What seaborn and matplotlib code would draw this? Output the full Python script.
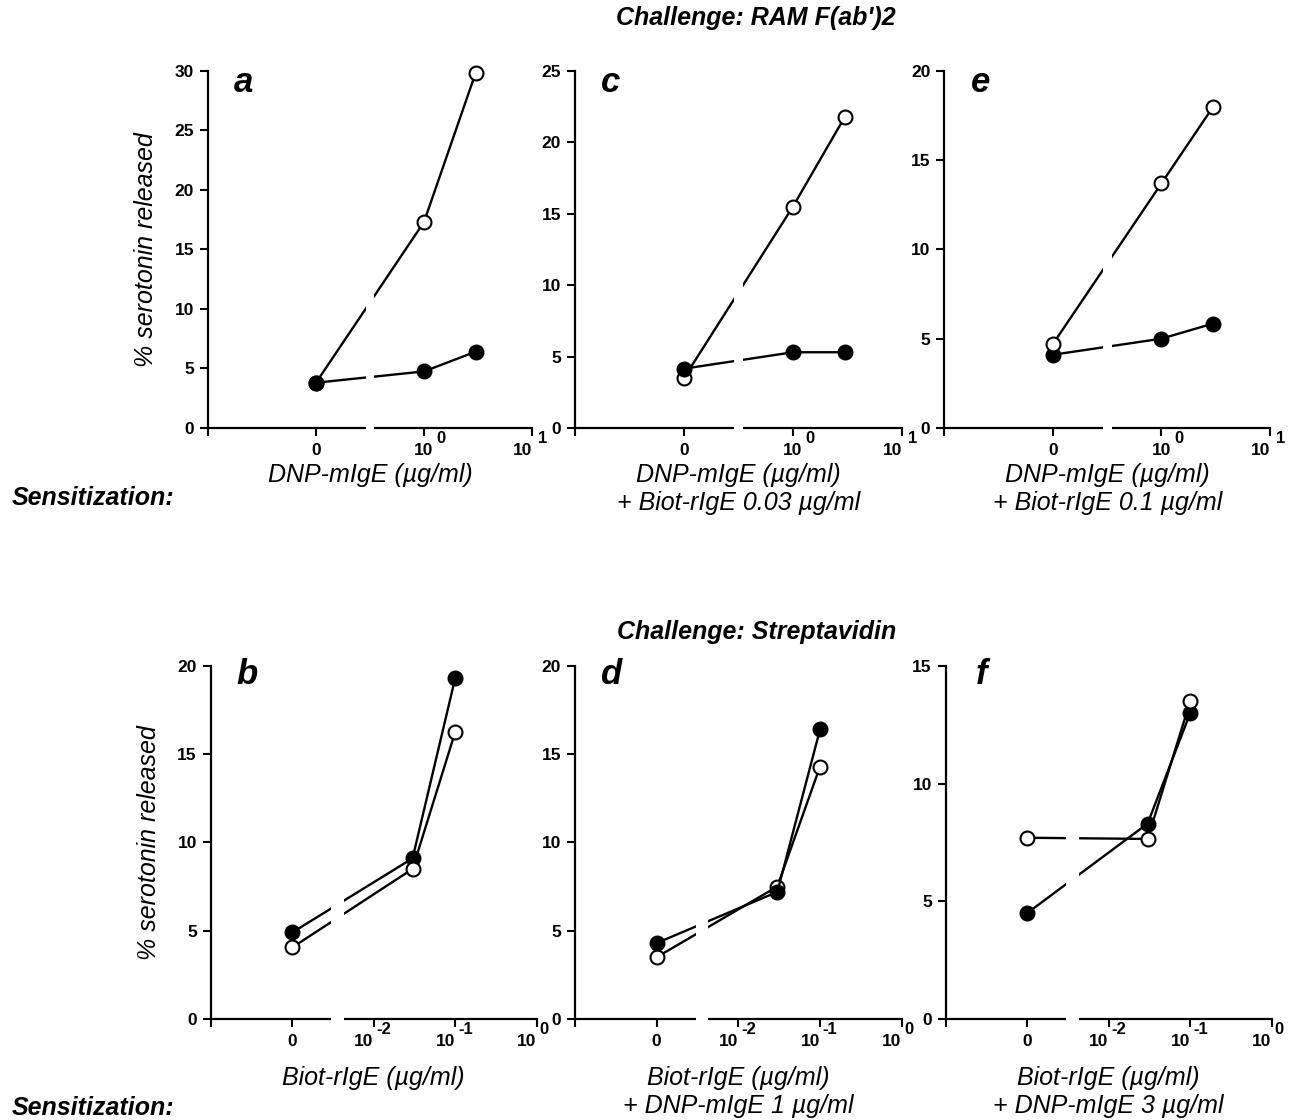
"""
Serotonin release after sensitization / challenge (panels a-f)
"""
import numpy as np
import pandas as pd
import matplotlib
matplotlib.use('Agg')
import matplotlib.pyplot as plt
import seaborn as sns

sns.set_style('ticks')
plt.rcParams['font.family'] = ['Liberation Sans', 'DejaVu Sans']
plt.rcParams['font.weight'] = 'bold'
for key in ['text.color', 'axes.labelcolor', 'axes.edgecolor', 'xtick.color', 'ytick.color']:
    plt.rcParams[key] = 'black'

# Concentrations of the varied sensitizing antibody (ug/ml), 0 = none
dnp_conc = [0, 1, 3]
biot_conc = [0, 0.03, 0.1]

# Challenge: RAM F(ab')2 (top row)
a_open = [3.8, 17.3, 29.8]
a_filled = [3.8, 4.75, 6.4]
c_open = [3.5, 15.5, 21.8]
c_filled = [4.15, 5.3, 5.3]
e_open = [4.7, 13.7, 18.0]
e_filled = [4.1, 5.0, 5.85]

# Challenge: Streptavidin (bottom row)
b_open = [4.05, 8.5, 16.25]
b_filled = [4.9, 9.1, 19.3]
d_open = [3.5, 7.5, 14.3]
d_filled = [4.3, 7.2, 16.4]
f_open = [7.7, 7.65, 13.5]
f_filled = [4.5, 8.3, 13.0]

# tick text: base + raised exponent
top_ticklabels = ['', '0', '10', '10']
top_exponents = ['', '', '0', '1']
bottom_ticklabels = ['', '0', '10', '10', '10']
bottom_exponents = ['', '', '-2', '-1', '0']

# x axis: log10 scale, "0" drawn one decade left of the first decade, axis broken in between
rows = {
    'top': dict(xlim=(-2, 1), zero_pos=-1, gap=(-0.54, -0.46),
                labels=top_ticklabels, exps=top_exponents,
                base_ha=['center', 'center', 'center', 'right'], exp_dx=[0, 0, 9, 4],
                bottom=0.6179, height=0.3188, xlabel_y=-0.098, letter_y=0.94),
    'bottom': dict(xlim=(-4, 0), zero_pos=-3, gap=(-2.52, -2.37),
                   labels=bottom_ticklabels, exps=bottom_exponents,
                   base_ha=['center', 'center', 'right', 'right', 'right'], exp_dx=[0, 0, 2, 2, 2],
                   bottom=0.0902, height=0.3152, xlabel_y=-0.133, letter_y=0.95),
}


def to_pos(conc, zero_pos):
    return [np.log10(c) if c > 0 else zero_pos for c in conc]


fig = plt.figure(figsize=(12.95, 11.2), dpi=100)


def draw_panel(left, width, row, conc, open_vals, filled_vals, letter, ymax,
               xlabel, filled_on_top, ylabel=None):
    r = rows[row]
    ax = fig.add_axes([left, r['bottom'], width, r['height']])
    df = pd.DataFrame({'pos': to_pos(conc, r['zero_pos']),
                       'open': open_vals, 'filled': filled_vals})

    common = dict(color='black', lw=1.7, marker='o', markersize=10,
                  markeredgecolor='black', markeredgewidth=1.5,
                  errorbar=None, clip_on=False)
    z_open, z_filled = (4, 5) if filled_on_top else (5, 4)
    sns.lineplot(data=df, x='pos', y='filled', ax=ax, markerfacecolor='black',
                 zorder=z_filled, **common)
    sns.lineplot(data=df, x='pos', y='open', ax=ax, markerfacecolor='white',
                 zorder=z_open, **common)

    # axis break: blank out both the x axis and the data lines
    ax.axvspan(r['gap'][0], r['gap'][1], ymin=-0.012, ymax=1.0, color='white',
               lw=0, zorder=6, clip_on=False)

    ax.set_xlim(*r['xlim'])
    ax.set_ylim(0, ymax)
    xticks = np.arange(r['xlim'][0], r['xlim'][1] + 1)
    ax.set_xticks(xticks, r['labels'])
    ax.set_yticks(np.arange(0, ymax + 1, 5))
    for lbl, ha in zip(ax.get_xticklabels(), r['base_ha']):
        lbl.set_va('baseline')
        lbl.set_ha(ha)
    ax.tick_params(axis='x', direction='out', length=6, width=1.5, labelsize=12.5, pad=13.5)
    ax.tick_params(axis='y', direction='out', length=6, width=1.5, labelsize=12.5, pad=4)
    for xt, exp, dx in zip(xticks, r['exps'], r['exp_dx']):
        if exp:
            ax.annotate(exp, xy=(xt, 0), xycoords=ax.get_xaxis_transform(),
                        xytext=(dx, -10.5), textcoords='offset points',
                        ha='left', va='baseline', fontsize=12, annotation_clip=False)
    sns.despine(ax=ax)
    for side in ['left', 'bottom']:
        ax.spines[side].set_linewidth(1.6)

    ax.set_xlabel(xlabel, fontsize=18, fontweight='normal', style='italic', va='top')
    ax.xaxis.set_label_coords(0.5, r['xlabel_y'])
    if ylabel:
        ax.set_ylabel(ylabel, fontsize=18, fontweight='normal', style='italic', va='center')
        ax.yaxis.set_label_coords(-0.19, 0.5)
    else:
        ax.set_ylabel('')

    ax.text(0.11, r['letter_y'], letter, transform=ax.transAxes, ha='center',
            va='baseline', fontsize=25, fontweight='bold', style='italic')
    return ax


ylab = '% serotonin released'
draw_panel(0.1606, 0.2502, 'top', dnp_conc, a_open, a_filled, 'a', 30,
           'DNP-mIgE (µg/ml)', True, ylab)
draw_panel(0.4440, 0.2525, 'top', dnp_conc, c_open, c_filled, 'c', 25,
           'DNP-mIgE (µg/ml)\n+ Biot-rIgE 0.03 µg/ml', True)
draw_panel(0.7292, 0.2515, 'top', dnp_conc, e_open, e_filled, 'e', 20,
           'DNP-mIgE (µg/ml)\n+ Biot-rIgE 0.1 µg/ml', False)

draw_panel(0.1627, 0.2517, 'bottom', biot_conc, b_open, b_filled, 'b', 20,
           'Biot-rIgE (µg/ml)', False, ylab)
draw_panel(0.4440, 0.2523, 'bottom', biot_conc, d_open, d_filled, 'd', 20,
           'Biot-rIgE (µg/ml)\n+ DNP-mIgE 1 µg/ml', True)
draw_panel(0.7303, 0.2517, 'bottom', biot_conc, f_open, f_filled, 'f', 15,
           'Biot-rIgE (µg/ml)\n+ DNP-mIgE 3 µg/ml', False)

head = dict(fontsize=18, fontweight='bold', style='italic', va='center')
fig.text(0.584, 0.984, "Challenge: RAM F(ab')2", ha='center', **head)
fig.text(0.584, 0.436, 'Challenge: Streptavidin', ha='center', **head)
fig.text(0.009, 0.555, 'Sensitization:', ha='left', **head)
fig.text(0.009, 0.011, 'Sensitization:', ha='left', **head)

fig.savefig('out.png', dpi=100, facecolor='white')
